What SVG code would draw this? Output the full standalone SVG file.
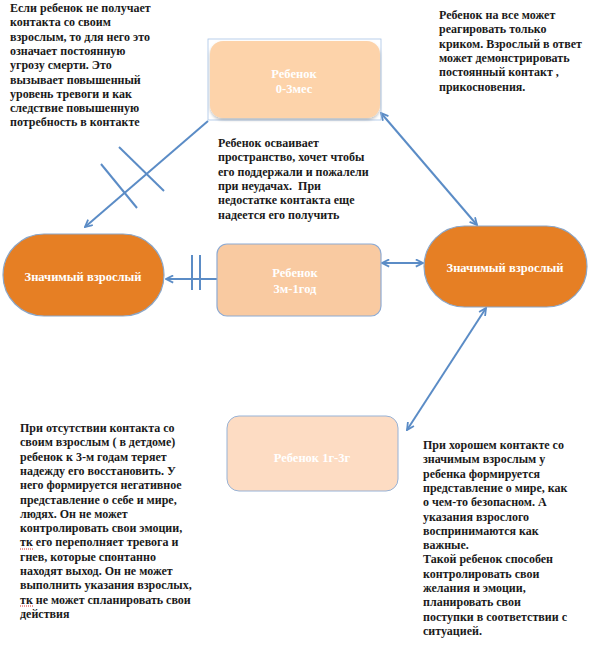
<svg xmlns="http://www.w3.org/2000/svg" width="590" height="653" viewBox="0 0 590 653">
<defs>
<style>
.t{font-family:"Liberation Serif","Times New Roman",serif;font-weight:bold;font-size:12px;fill:#1a1a1a}
.w{font-family:"Liberation Serif","Times New Roman",serif;font-weight:bold;font-size:12.5px;fill:#ffffff;text-anchor:middle}
.c{stroke:#5b8cc6;stroke-width:2;fill:none}
.adult{fill:#e67f24;stroke:#8aa6c8;stroke-width:1.2}
.sq{stroke:#e03030;stroke-width:1;stroke-dasharray:1 1;fill:none}
</style>
<marker id="ah" viewBox="0 0 10 10" refX="9" refY="5" markerWidth="9" markerHeight="9" orient="auto-start-reverse" markerUnits="userSpaceOnUse">
<path d="M1,1 L9,5 L1,9" fill="none" stroke="#5b8cc6" stroke-width="2"/>
</marker>
<filter id="sh" x="-10%" y="-10%" width="120%" height="130%">
<feDropShadow dx="0" dy="2" stdDeviation="1.5" flood-color="#000" flood-opacity="0.25"/>
</filter>
</defs>
<rect width="590" height="653" fill="#ffffff"/>

<g id="connectors">
<line class="c" x1="208" y1="121" x2="85" y2="227" marker-end="url(#ah)"/>
<line class="c" x1="119" y1="147" x2="164" y2="191"/>
<line class="c" x1="101" y1="164" x2="137" y2="208"/>
<line class="c" x1="217" y1="279" x2="166" y2="279" marker-end="url(#ah)"/>
<line class="c" x1="192" y1="255" x2="192" y2="290"/>
<line class="c" x1="200" y1="255" x2="200" y2="290"/>
<line class="c" x1="382" y1="263" x2="423" y2="263" marker-start="url(#ah)" marker-end="url(#ah)"/>
<line class="c" x1="381" y1="113" x2="477" y2="225" marker-start="url(#ah)" marker-end="url(#ah)"/>
<line class="c" x1="486" y1="308" x2="407" y2="430" marker-start="url(#ah)" marker-end="url(#ah)"/>
</g>

<g id="node-child-0-3">
<rect x="208" y="39" width="173" height="81" fill="none" stroke="#a9c4e6" stroke-width="0.8"/>
<rect x="210" y="41" width="170" height="77" rx="13" fill="#fdd3aa" filter="url(#sh)"/>
<text class="w" x="294" y="78">Ребенок</text>
<text class="w" x="294" y="93">0-3мес</text>
</g>

<g id="node-adult-left">
<rect class="adult" x="3" y="234" width="161" height="82" rx="41"/>
<text class="w" x="83" y="281">Значимый взрослый</text>
</g>

<g id="node-child-3m-1">
<rect x="217" y="244" width="164" height="72" rx="10" fill="#f9caa1" stroke="#8eaad2" stroke-width="1.2"/>
<text class="w" x="295" y="277">Ребенок</text>
<text class="w" x="295" y="293">3м-1год</text>
</g>

<g id="node-adult-right">
<rect class="adult" x="424" y="226" width="163" height="81" rx="40.5"/>
<text class="w" x="505" y="272">Значимый взрослый</text>
</g>

<g id="node-child-1-3">
<rect x="227" y="416" width="171" height="75" rx="12" fill="#fddcc3" stroke="#97b2d6" stroke-width="1"/>
<text class="w" x="312" y="462">Ребенок 1г-3г</text>
</g>

<g id="text-top-left">
<text class="t" x="10" y="12">Если ребенок не получает</text>
<text class="t" x="10" y="26.3">контакта со своим</text>
<text class="t" x="10" y="40.6">взрослым, то для него это</text>
<text class="t" x="10" y="54.9">означает постоянную</text>
<text class="t" x="10" y="69.2">угрозу смерти. Это</text>
<text class="t" x="10" y="83.5">вызывает повышенный</text>
<text class="t" x="10" y="97.8">уровень тревоги и как</text>
<text class="t" x="10" y="112.1">следствие повышенную</text>
<text class="t" x="10" y="126.4">потребность в контакте</text>
</g>

<g id="text-top-right">
<text class="t" x="439" y="19">Ребенок на все может</text>
<text class="t" x="439" y="33.3">реагировать только</text>
<text class="t" x="439" y="47.6">криком. Взрослый в ответ</text>
<text class="t" x="439" y="61.9">может демонстрировать</text>
<text class="t" x="439" y="76.2">постоянный контакт ,</text>
<text class="t" x="439" y="90.5">прикосновения.</text>
</g>

<g id="text-middle">
<text class="t" x="218" y="147">Ребенок осваивает</text>
<text class="t" x="218" y="161.3">пространство, хочет чтобы</text>
<text class="t" x="218" y="175.6">его поддержали и пожалели</text>
<text class="t" x="218" y="189.9" xml:space="preserve">при неудачах.  При</text>
<text class="t" x="218" y="204.2">недостатке контакта еще</text>
<text class="t" x="218" y="218.5">надеется его получить</text>
</g>

<g id="text-bottom-left">
<text class="t" x="20" y="432">При отсутствии контакта со</text>
<text class="t" x="20" y="446.3">своим взрослым ( в детдоме)</text>
<text class="t" x="20" y="460.6">ребенок к 3-м годам теряет</text>
<text class="t" x="20" y="474.9">надежду его восстановить. У</text>
<text class="t" x="20" y="489.2">него формируется негативное</text>
<text class="t" x="20" y="503.5">представление о себе и мире,</text>
<text class="t" x="20" y="517.8">людях. Он не может</text>
<text class="t" x="20" y="532.1">контролировать свои эмоции,</text>
<text class="t" x="20" y="546.4">тк его переполняет тревога и</text>
<text class="t" x="20" y="560.7">гнев, которые спонтанно</text>
<text class="t" x="20" y="575">находят выход. Он не может</text>
<text class="t" x="20" y="589.3">выполнить указания взрослых,</text>
<text class="t" x="20" y="603.6">тк не может спланировать свои</text>
<text class="t" x="20" y="617.9">действия</text>
<path class="sq" d="M20,549 L33,549"/>
<path class="sq" d="M20,606 L33,606"/>
</g>

<g id="text-bottom-right">
<text class="t" x="423" y="449">При хорошем контакте со</text>
<text class="t" x="423" y="463.3">значимым взрослым у</text>
<text class="t" x="423" y="477.6">ребенка формируется</text>
<text class="t" x="423" y="491.9">представление о мире, как</text>
<text class="t" x="423" y="506.2">о чем-то безопасном. А</text>
<text class="t" x="423" y="520.5">указания взрослого</text>
<text class="t" x="423" y="534.8">воспринимаются как</text>
<text class="t" x="423" y="549.1">важные.</text>
<text class="t" x="423" y="563.4">Такой ребенок способен</text>
<text class="t" x="423" y="577.7">контролировать свои</text>
<text class="t" x="423" y="592">желания и эмоции,</text>
<text class="t" x="423" y="606.3">планировать свои</text>
<text class="t" x="423" y="620.6">поступки в соответствии с</text>
<text class="t" x="423" y="634.9">ситуацией.</text>
</g>
</svg>
